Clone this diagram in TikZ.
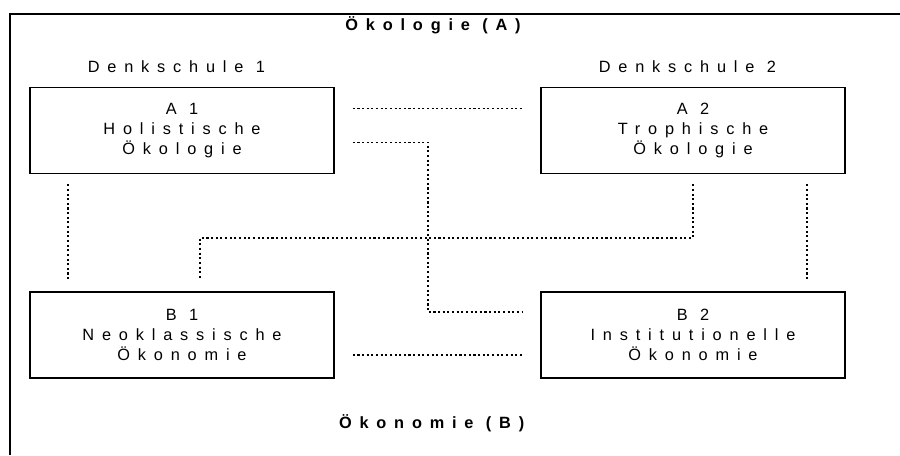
\documentclass[tikz,border=0pt]{standalone}
\usepackage{fontspec}
\setmainfont{Liberation Sans}[LetterSpace=48]
\usepackage{tikz}
\usetikzlibrary{positioning}

\begin{document}
\begin{tikzpicture}[font=\fontsize{11.6pt}{14.2pt}\selectfont,
  feld/.style={draw,line width=1.1pt,minimum width=76mm,minimum height=21.5mm,align=center,inner sep=0pt},
  kante/.style={line width=0.75pt,dash pattern=on 1.5pt off 1.8pt},
  titel/.style={font=\fontsize{11.6pt}{14.2pt}\selectfont\bfseries,anchor=base}]
  \useasboundingbox (0,0) rectangle (22.5,-11.375);
  \draw[line width=1.4pt] (22.5,-0.35) -| (0.25,-11.375);
  % Felder
  \node[feld] (a1) at (4.55,-3.2625) {A 1\\Holistische\\Ökologie};
  \node[feld] (a2) at (17.325,-3.2625) {A 2\\Trophische\\Ökologie};
  \node[feld] (b1) at (4.55,-8.375) {B 1\\Neoklassische\\Ökonomie};
  \node[feld] (b2) at (17.325,-8.375) {B 2\\Institutionelle\\Ökonomie};
  \node[above=2.3mm of a1,xshift=-1.4mm] (d1) {Denkschule 1};
  \node[above=2.3mm of a2,xshift=-1.4mm] (d2) {Denkschule 2};
  \node[titel] (ta) at (10.825,-0.767) {Ökologie (A)};
  \node[titel] (tb) at (10.79,-10.71) {Ökonomie (B)};
  % Verbindungen
  \coordinate (k1) at (10.7,-7.8);
  \coordinate (k2) at (5.0,-5.95);
  \draw[kante,shorten <=4.5mm,shorten >=4.5mm] ([yshift=5.6mm]a1.east) -- ([yshift=5.6mm]a2.west);
  \draw[kante,shorten <=4.5mm,shorten >=4.5mm] ([yshift=-2.9mm]a1.east) -| (k1) -- (k1 -| b2.west);
  \draw[kante,shorten <=2.5mm,shorten >=2.5mm] ([xshift=-28.5mm]a1.south) -- ([xshift=-28.5mm]b1.north);
  \draw[kante,shorten <=2.5mm,shorten >=3mm] (a2.south) |- (k2) -- (k2 |- b1.north);
  \draw[kante,shorten <=2.5mm,shorten >=2.5mm] ([xshift=28.5mm]a2.south) -- ([xshift=28.5mm]b2.north);
  \draw[kante,shorten <=4.5mm,shorten >=4.5mm] ([yshift=-5mm]b1.east) -- ([yshift=-5mm]b2.west);
\end{tikzpicture}
\end{document}
